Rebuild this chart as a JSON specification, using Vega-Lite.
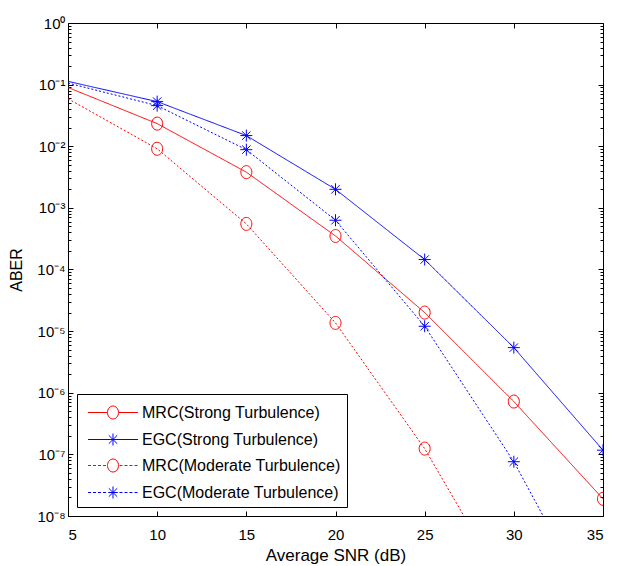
{
  "$schema": "https://vega.github.io/schema/vega-lite/v6.json",
  "width": 535,
  "height": 493,
  "autosize": "none",
  "padding": {"left": 68, "top": 23, "right": 14, "bottom": 50},
  "background": "white",
  "data": {
    "values": [
      {"series": "MRC(Strong Turbulence)", "turbulence": "Strong", "snr": 5, "aber": 0.09},
      {"series": "MRC(Strong Turbulence)", "turbulence": "Strong", "snr": 10, "aber": 0.0233},
      {"series": "MRC(Strong Turbulence)", "turbulence": "Strong", "snr": 15, "aber": 0.0038},
      {"series": "MRC(Strong Turbulence)", "turbulence": "Strong", "snr": 20, "aber": 0.00035},
      {"series": "MRC(Strong Turbulence)", "turbulence": "Strong", "snr": 25, "aber": 2.0e-5},
      {"series": "MRC(Strong Turbulence)", "turbulence": "Strong", "snr": 30, "aber": 7.2e-7},
      {"series": "MRC(Strong Turbulence)", "turbulence": "Strong", "snr": 35, "aber": 1.9e-8},
      {"series": "EGC(Strong Turbulence)", "turbulence": "Strong", "snr": 5, "aber": 0.113},
      {"series": "EGC(Strong Turbulence)", "turbulence": "Strong", "snr": 10, "aber": 0.053},
      {"series": "EGC(Strong Turbulence)", "turbulence": "Strong", "snr": 15, "aber": 0.0149},
      {"series": "EGC(Strong Turbulence)", "turbulence": "Strong", "snr": 20, "aber": 0.002},
      {"series": "EGC(Strong Turbulence)", "turbulence": "Strong", "snr": 25, "aber": 1.45e-4},
      {"series": "EGC(Strong Turbulence)", "turbulence": "Strong", "snr": 30, "aber": 5.4e-6},
      {"series": "EGC(Strong Turbulence)", "turbulence": "Strong", "snr": 35, "aber": 1.17e-7},
      {"series": "MRC(Moderate Turbulence)", "turbulence": "Moderate", "snr": 5, "aber": 0.059},
      {"series": "MRC(Moderate Turbulence)", "turbulence": "Moderate", "snr": 10, "aber": 0.0091},
      {"series": "MRC(Moderate Turbulence)", "turbulence": "Moderate", "snr": 15, "aber": 5.5e-4},
      {"series": "MRC(Moderate Turbulence)", "turbulence": "Moderate", "snr": 20, "aber": 1.36e-5},
      {"series": "MRC(Moderate Turbulence)", "turbulence": "Moderate", "snr": 25, "aber": 1.24e-7},
      {"series": "MRC(Moderate Turbulence)", "turbulence": "Moderate", "snr": 30, "aber": 4.1e-10},
      {"series": "EGC(Moderate Turbulence)", "turbulence": "Moderate", "snr": 5, "aber": 0.106},
      {"series": "EGC(Moderate Turbulence)", "turbulence": "Moderate", "snr": 10, "aber": 0.0456},
      {"series": "EGC(Moderate Turbulence)", "turbulence": "Moderate", "snr": 15, "aber": 0.0088},
      {"series": "EGC(Moderate Turbulence)", "turbulence": "Moderate", "snr": 20, "aber": 6.3e-4},
      {"series": "EGC(Moderate Turbulence)", "turbulence": "Moderate", "snr": 25, "aber": 1.2e-5},
      {"series": "EGC(Moderate Turbulence)", "turbulence": "Moderate", "snr": 30, "aber": 7.6e-8},
      {"series": "EGC(Moderate Turbulence)", "turbulence": "Moderate", "snr": 35, "aber": 1.6e-10}
    ]
  },
  "layer": [
    {
      "mark": {"type": "line", "clip": true, "strokeWidth": 1},
      "encoding": {
        "x": {
          "field": "snr", "type": "quantitative",
          "scale": {"domain": [5, 35], "nice": false, "zero": false},
          "axis": {
            "orient": "bottom", "values": [5, 10, 15, 20, 25, 30, 35], "format": "d",
            "title": "Average SNR (dB)", "titleFontSize": 17, "grid": false, "tickSize": -5, "labelPadding": 16,
            "titlePadding": 5
          }
        },
        "y": {
          "field": "aber", "type": "quantitative",
          "scale": {"type": "log", "domain": [1e-8, 1], "nice": false},
          "axis": {
            "orient": "left", "title": "ABER", "grid": false, "titlePadding": 12, "labelPadding": 8,
            "values": [1e-8,2e-8,3e-8,4e-8,5e-8,6e-8,7e-8,8e-8,9e-8,1e-7,2e-7,3e-7,4e-7,5e-7,6e-7,7e-7,8e-7,9e-7,1e-6,2e-6,3e-6,4e-6,5e-6,6e-6,7e-6,8e-6,9e-6,1e-5,2e-5,3e-5,4e-5,5e-5,6e-5,7e-5,8e-5,9e-5,1e-4,2e-4,3e-4,4e-4,5e-4,6e-4,7e-4,8e-4,9e-4,1e-3,2e-3,3e-3,4e-3,5e-3,6e-3,7e-3,8e-3,9e-3,1e-2,2e-2,3e-2,4e-2,5e-2,6e-2,7e-2,8e-2,9e-2,1e-1,2e-1,3e-1,4e-1,5e-1,6e-1,7e-1,8e-1,9e-1,1],
            "labelExpr": "abs(log(datum.value)/LN10 - round(log(datum.value)/LN10)) < 1e-6 ? '10' + (round(log(datum.value)/LN10) == 0 ? '⁰' : '⁻' + ['', '¹', '²', '³', '⁴', '⁵', '⁶', '⁷', '⁸'][-round(log(datum.value)/LN10)]) : ''",
            "tickSize": {"condition": {"test": "abs(log(datum.value)/LN10 - round(log(datum.value)/LN10)) < 1e-6", "value": -5}, "value": -3}
          }
        },
        "color": {
          "field": "series", "type": "nominal",
          "scale": {"domain": ["MRC(Strong Turbulence)", "EGC(Strong Turbulence)", "MRC(Moderate Turbulence)", "EGC(Moderate Turbulence)"], "range": ["#ff0000", "#0000ff", "#ff0000", "#0000ff"]}
        },
        "strokeDash": {
          "field": "turbulence", "type": "nominal",
          "scale": {"domain": ["Strong", "Moderate"], "range": [[1, 0], [2, 2]]},
          "legend": null
        }
      }
    },
    {
      "transform": [{"filter": "datum.snr > 5 && indexof(datum.series, 'MRC') == 0"}],
      "mark": {"type": "point", "clip": true, "filled": false, "strokeWidth": 1, "size": 144, "opacity": 1,
               "shape": "M0.917,0C0.917,0.598 0.506,1.083 0,1.083C-0.506,1.083 -0.917,0.598 -0.917,0C-0.917,-0.598 -0.506,-1.083 0,-1.083C0.506,-1.083 0.917,-0.598 0.917,0Z"},
      "encoding": {
        "x": {
          "field": "snr", "type": "quantitative",
          "axis": {"orient": "top", "values": [5, 10, 15, 20, 25, 30, 35], "labels": false, "title": null, "grid": false, "tickSize": -5}
        },
        "y": {
          "field": "aber", "type": "quantitative",
          "axis": {
            "orient": "right", "labels": false, "title": null, "grid": false,
            "values": [1e-8,2e-8,3e-8,4e-8,5e-8,6e-8,7e-8,8e-8,9e-8,1e-7,2e-7,3e-7,4e-7,5e-7,6e-7,7e-7,8e-7,9e-7,1e-6,2e-6,3e-6,4e-6,5e-6,6e-6,7e-6,8e-6,9e-6,1e-5,2e-5,3e-5,4e-5,5e-5,6e-5,7e-5,8e-5,9e-5,1e-4,2e-4,3e-4,4e-4,5e-4,6e-4,7e-4,8e-4,9e-4,1e-3,2e-3,3e-3,4e-3,5e-3,6e-3,7e-3,8e-3,9e-3,1e-2,2e-2,3e-2,4e-2,5e-2,6e-2,7e-2,8e-2,9e-2,1e-1,2e-1,3e-1,4e-1,5e-1,6e-1,7e-1,8e-1,9e-1,1],
            "tickSize": {"condition": {"test": "abs(log(datum.value)/LN10 - round(log(datum.value)/LN10)) < 1e-6", "value": -5}, "value": -3}
          }
        },
        "color": {"field": "series", "type": "nominal"}
      }
    },
    {
      "transform": [{"filter": "datum.snr > 5 && indexof(datum.series, 'EGC') == 0"}],
      "mark": {"type": "point", "clip": true, "filled": false, "strokeWidth": 1, "size": 144, "opacity": 1,
               "shape": "M0,-1L0,1M-1,0L1,0M-0.7,-0.7L0.7,0.7M-0.7,0.7L0.7,-0.7"},
      "encoding": {
        "x": {"field": "snr", "type": "quantitative", "axis": null},
        "y": {"field": "aber", "type": "quantitative", "axis": null},
        "color": {"field": "series", "type": "nominal"}
      }
    },
    {
      "transform": [{"filter": "datum.snr < 0"}],
      "mark": {"type": "point", "filled": false, "strokeWidth": 1, "opacity": 1},
      "encoding": {
        "x": {"field": "snr", "type": "quantitative", "axis": null},
        "y": {"field": "aber", "type": "quantitative", "axis": null},
        "color": {
          "field": "series", "type": "nominal",
          "legend": {
            "title": null, "orient": "bottom-left", "offset": 9, "padding": 6, "rowPadding": 5,
            "strokeColor": "#000", "fillColor": "#fff", "labelFontSize": 16, "labelColor": "#000", "labelLimit": 400,
            "symbolSize": 576, "symbolStrokeWidth": 1, "labelOffset": 34, "symbolOffset": 0, "symbolOpacity": 1
          }
        },
        "shape": {
          "field": "series", "type": "nominal",
          "scale": {"domain": ["MRC(Strong Turbulence)", "EGC(Strong Turbulence)", "MRC(Moderate Turbulence)", "EGC(Moderate Turbulence)"], "range": [
            "M-0.625,0L1,0M1.916,0L3.542,0M1.916,0C1.916,0.299 1.711,0.542 1.458,0.542C1.205,0.542 1,0.299 1,0C1,-0.299 1.205,-0.542 1.458,-0.542C1.711,-0.542 1.916,-0.299 1.916,0Z",
            "M-0.625,0L3.542,0M1.458,-0.5L1.458,0.5M1.108,-0.35L1.808,0.35M1.108,0.35L1.808,-0.35",
            "M-0.625,0L-0.375,0M-0.208,0L0.042,0M0.208,0L0.458,0M0.625,0L0.875,0M2,0L2.25,0M2.417,0L2.667,0M2.833,0L3.083,0M3.25,0L3.5,0M1.916,0C1.916,0.299 1.711,0.542 1.458,0.542C1.205,0.542 1,0.299 1,0C1,-0.299 1.205,-0.542 1.458,-0.542C1.711,-0.542 1.916,-0.299 1.916,0Z",
            "M-0.625,0L-0.375,0M-0.208,0L0.042,0M0.208,0L0.458,0M0.625,0L0.875,0M1.058,0L1.858,0M2,0L2.25,0M2.417,0L2.667,0M2.833,0L3.083,0M3.25,0L3.5,0M1.458,-0.5L1.458,0.5M1.108,-0.35L1.808,0.35M1.108,0.35L1.808,-0.35"
          ]},
          "legend": {
            "title": null, "orient": "bottom-left", "offset": 9, "padding": 6, "rowPadding": 5,
            "strokeColor": "#000", "fillColor": "#fff", "labelFontSize": 16, "labelColor": "#000", "labelLimit": 400,
            "symbolSize": 576, "symbolStrokeWidth": 1, "labelOffset": 34, "symbolOffset": 0, "symbolOpacity": 1
          }
        }
      }
    }
  ],
  "resolve": {"axis": {"x": "independent", "y": "independent"}},
  "config": {
    "font": "Liberation Sans",
    "view": {"stroke": null},
    "axis": {
      "labelFont": "Liberation Sans", "labelFontSize": 15, "labelColor": "#000",
      "titleFont": "Liberation Sans", "titleFontSize": 16, "titleFontWeight": "normal", "titleColor": "#000",
      "tickColor": "#000", "tickWidth": 1, "domainColor": "#000", "domainWidth": 1
    },
    "legend": {"labelFont": "Liberation Sans"}
  }
}
